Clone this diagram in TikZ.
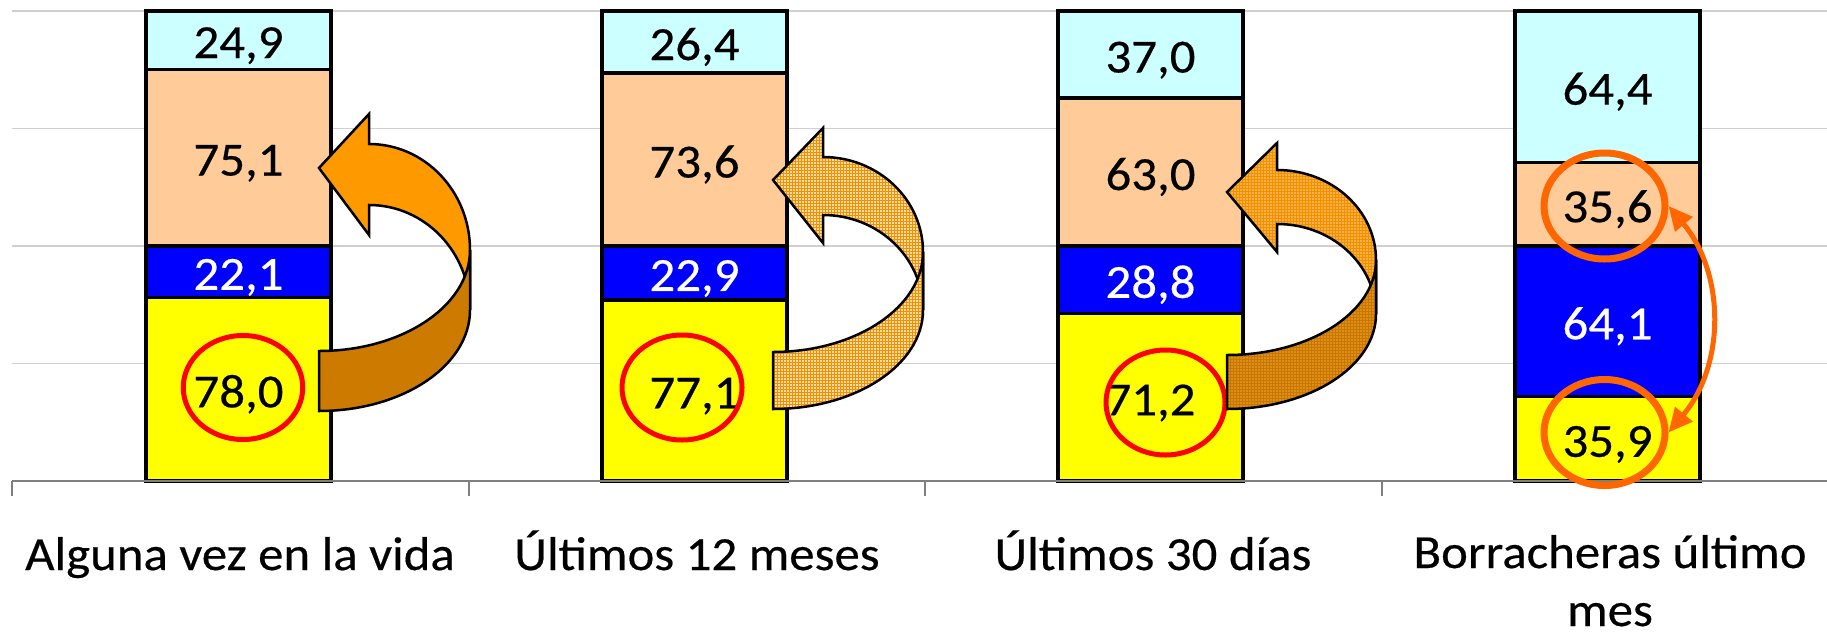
\documentclass[tikz,border=0pt]{standalone}
\usepackage{fontspec}
\setmainfont{Carlito}[FakeStretch=1.07,FakeBold=0.4]
\usetikzlibrary{patterns,arrows.meta,shapes.geometric}
\definecolor{cyanseg}{HTML}{CCFFFF}
\definecolor{peachseg}{HTML}{FFCC99}
\definecolor{blueseg}{HTML}{0000FF}
\definecolor{yellowseg}{HTML}{FFFF00}
\definecolor{arrowback}{HTML}{FF9900}
\definecolor{arrowfront}{HTML}{CC7A00}
\definecolor{patlight}{HTML}{FFDDA8}
\definecolor{patline}{HTML}{F29000}
\definecolor{pat3back}{HTML}{F8B048}
\definecolor{pat3front}{HTML}{DE8E18}
\definecolor{pat3line}{HTML}{C87800}
\definecolor{ringorange}{HTML}{FF6600}
\definecolor{gridgray}{HTML}{D0D0D0}
\definecolor{axisgray}{HTML}{7F7F7F}
\begin{document}
\begin{tikzpicture}[x=1pt,y=-1pt,
  seg/.style={draw=black,line width=3.5pt,rectangle,minimum width=185pt,inner sep=0pt,outer sep=0pt},
  num/.style={anchor=base,inner sep=0pt,font=\fontsize{47.5}{57}\selectfont},
  wnum/.style={num,text=white},
  cat/.style={anchor=base,inner sep=0pt,align=center,font=\fontsize{47.5}{58}\selectfont},
  ring/.style={ellipse,draw=red,line width=5pt,inner sep=0pt},
  oring/.style={ellipse,draw=ringorange,line width=7pt,inner sep=0pt,minimum width=121pt,minimum height=106pt},
  gridl/.style={draw=gridgray,line width=1.5pt},
  axisl/.style={draw=axisgray,line width=2pt},
  arrowshape/.style={draw=black,line width=2.5pt,line join=miter}
]
\useasboundingbox (0,0) rectangle (1827,635);
% gridlines
\foreach \gy in {11,128.5,246,363.5} \draw[gridl] (12,\gy) -- (1827,\gy);

% bar 1
\node[seg,fill=yellowseg,minimum height=183.3pt] (b1a) at (238.5,389.35) {};
\node[seg,fill=blueseg,minimum height=51.9pt] (b1b) at (238.5,271.75) {};
\node[seg,fill=peachseg,minimum height=176.5pt] (b1c) at (238.5,157.55) {};
\node[seg,fill=cyanseg,minimum height=58.5pt] (b1d) at (238.5,40.05) {};
% bar 2
\node[seg,fill=yellowseg,minimum height=181.2pt] (b2a) at (694.5,390.4) {};
\node[seg,fill=blueseg,minimum height=53.8pt] (b2b) at (694.5,272.9) {};
\node[seg,fill=peachseg,minimum height=173pt] (b2c) at (694.5,159.5) {};
\node[seg,fill=cyanseg,minimum height=62pt] (b2d) at (694.5,42) {};
% bar 3
\node[seg,fill=yellowseg,minimum height=167.3pt] (b3a) at (1150.5,397.35) {};
\node[seg,fill=blueseg,minimum height=67.7pt] (b3b) at (1150.5,279.85) {};
\node[seg,fill=peachseg,minimum height=148.05pt] (b3c) at (1150.5,171.98) {};
\node[seg,fill=cyanseg,minimum height=86.95pt] (b3d) at (1150.5,54.5) {};
% bar 4
\node[seg,fill=yellowseg,minimum height=84.4pt] (b4a) at (1607.5,438.8) {};
\node[seg,fill=blueseg,minimum height=150.6pt] (b4b) at (1607.5,321.3) {};
\node[seg,fill=peachseg,minimum height=83.7pt] (b4c) at (1607.5,204.2) {};
\node[seg,fill=cyanseg,minimum height=151.3pt] (b4d) at (1607.5,86.65) {};

% axis
\draw[axisl] (12,481) -- (1827,481);
\foreach \tx in {12,468.5,925,1381.5} \draw[axisl] (\tx,481) -- (\tx,496);

% values
\node[num] (t1a) at ([yshift=-18pt]b1a.center) {78,0};
\node[wnum] (t1b) at ([yshift=-18pt]b1b.center) {22,1};
\node[num] (t1c) at ([yshift=-18pt]b1c.center) {75,1};
\node[num] (t1d) at ([yshift=-18pt]b1d.center) {24,9};
\node[num] (t2a) at ([yshift=-18pt]b2a.center) {77,1};
\node[wnum] (t2b) at ([yshift=-18pt]b2b.center) {22,9};
\node[num] (t2c) at ([yshift=-18pt]b2c.center) {73,6};
\node[num] (t2d) at ([yshift=-18pt]b2d.center) {26,4};
\node[num] (t3a) at ([yshift=-18pt]b3a.center) {71,2};
\node[wnum] (t3b) at ([yshift=-18pt]b3b.center) {28,8};
\node[num] (t3c) at ([yshift=-18pt]b3c.center) {63,0};
\node[num] (t3d) at ([yshift=-18pt]b3d.center) {37,0};
\node[num] (t4a) at ([yshift=-18pt]b4a.center) {35,9};
\node[wnum] (t4b) at ([yshift=-18pt]b4b.center) {64,1};
\node[num] (t4c) at ([yshift=-18pt]b4c.center) {35,6};
\node[num] (t4d) at ([yshift=-18pt]b4d.center) {64,4};

% category labels
\node[cat] (c1) at (240,570) {Alguna vez en la vida};
\node[cat] (c2) at (697,570) {Últimos 12 meses};
\node[cat] (c3) at (1153,570) {Últimos 30 días};
\node[cat] (c4) at (1610,626) {Borracheras último\\mes};

% red ellipses
\node[ring,minimum width=119.5pt,minimum height=104pt] (e1) at (243,387.5) {};
\node[ring,minimum width=120pt,minimum height=105pt] (e2) at (682,387.5) {};
\node[ring,minimum width=119pt,minimum height=105pt] (e3) at (1165.5,402.5) {};

% curved arrow 1 (solid)
\path[arrowshape,fill=arrowback] (470,250) .. controls (470,191.5) and (424.8,144) .. (369,144)
  -- (369,114) -- (319,168) -- (369,235) -- (369,205)
  .. controls (424.8,205) and (470,252) .. (470,310) -- cycle;
\path[arrowshape,fill=arrowfront] (319,351) -- (319,411) .. controls (402.4,411) and (470,365.8) .. (470,310)
  -- (470,250) .. controls (470,305.8) and (402.4,351) .. (319,351) -- cycle;

% curved arrow 2 (grid pattern)
\path[arrowshape,preaction={fill=patlight},pattern=grid,pattern color=patline]
  (923,252) .. controls (923,199.5) and (878.2,157) .. (823,157)
  -- (823,128) -- (773,180) -- (823,243) -- (823,215)
  .. controls (878.2,215) and (923,257.5) .. (923,310) -- cycle;
\path[arrowshape,preaction={fill=patlight},pattern=grid,pattern color=patline]
  (773,352) -- (773,409) .. controls (855.8,409) and (923,364.7) .. (923,310)
  -- (923,252) .. controls (923,307.2) and (855.8,352) .. (773,352) -- cycle;

% curved arrow 3 (shaded pattern)
\path[arrowshape,preaction={fill=pat3back},pattern=grid,pattern color=patline]
  (1376,260) .. controls (1376,210.3) and (1331.7,170) .. (1277,170)
  -- (1277,143) -- (1227,192) -- (1277,252) -- (1277,224)
  .. controls (1331.7,224) and (1376,264.3) .. (1376,314) -- cycle;
\path[arrowshape,preaction={fill=pat3front},pattern=grid,pattern color=pat3line]
  (1227,355) -- (1227,409) .. controls (1309.3,409) and (1376,366.5) .. (1376,314)
  -- (1376,260) .. controls (1376,312.5) and (1309.3,355) .. (1227,355) -- cycle;

% orange rings and double arrow
\node[oring] (o1) at (1604.5,206) {};
\node[oring] (o2) at (1604.5,432.5) {};
\draw[draw=ringorange,line width=5pt,{Triangle[length=24pt,width=22pt]}-{Triangle[length=24pt,width=22pt]}]
  (o1.east) to[bend left=40] (o2.east);
\end{tikzpicture}
\end{document}
